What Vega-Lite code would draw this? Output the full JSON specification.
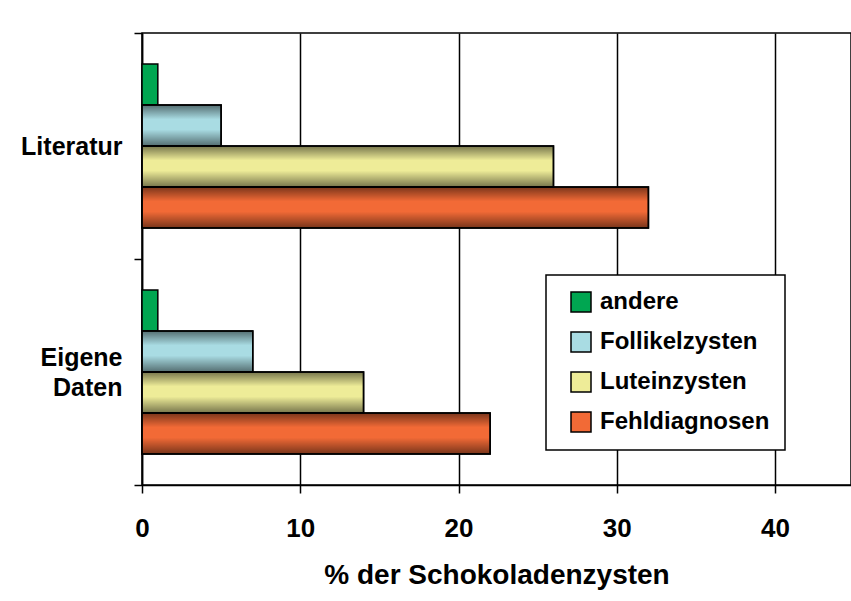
{
  "$schema": "https://vega.github.io/schema/vega-lite/v6.json",
  "width": 709,
  "height": 452,
  "autosize": {"type": "none"},
  "padding": {"left": 142, "top": 33, "right": 0, "bottom": 116},
  "background": "white",
  "config": {
    "font": "Liberation Sans",
    "view": {"stroke": "#000", "strokeWidth": 1.5},
    "axis": {"labelFont": "Liberation Sans", "titleFont": "Liberation Sans"},
    "legend": {"labelFont": "Liberation Sans"}
  },
  "data": {
    "values": [
      {"cat": "Literatur", "series": "andere", "value": 1},
      {"cat": "Literatur", "series": "Follikelzysten", "value": 5},
      {"cat": "Literatur", "series": "Luteinzysten", "value": 26},
      {"cat": "Literatur", "series": "Fehldiagnosen", "value": 32},
      {"cat": "Eigene Daten", "series": "andere", "value": 1},
      {"cat": "Eigene Daten", "series": "Follikelzysten", "value": 7},
      {"cat": "Eigene Daten", "series": "Luteinzysten", "value": 14},
      {"cat": "Eigene Daten", "series": "Fehldiagnosen", "value": 22}
    ]
  },
  "encoding": {
    "x": {
      "field": "value",
      "type": "quantitative",
      "scale": {"domain": [0, 44.8], "nice": false},
      "axis": {
        "title": "% der Schokoladenzysten",
        "values": [0, 10, 20, 30, 40],
        "labelFlush": false,
        "grid": true,
        "gridColor": "#000",
        "gridWidth": 1.5,
        "gridOpacity": 1,
        "domainColor": "#000",
        "domainWidth": 1.5,
        "tickColor": "#000",
        "tickWidth": 1.5,
        "tickSize": 8,
        "labelFontSize": 26,
        "labelFontWeight": "bold",
        "labelColor": "#000",
        "labelPadding": 22,
        "titleFontSize": 28,
        "titleFontWeight": "bold",
        "titleColor": "#000",
        "titlePadding": 20
      }
    },
    "y": {
      "field": "cat",
      "type": "nominal",
      "sort": ["Literatur", "Eigene Daten"],
      "scale": {"paddingInner": 0, "paddingOuter": 0},
      "axis": {
        "title": null,
        "tickBand": "extent",
        "domainColor": "#000",
        "domainWidth": 1.5,
        "tickColor": "#000",
        "tickWidth": 1.5,
        "tickSize": 8,
        "labelFontSize": 25,
        "labelFontWeight": "bold",
        "labelColor": "#000",
        "labelPadding": 12,
        "labelLineHeight": 30,
        "labelOffset": {"condition": {"test": "datum.value == 'Eigene Daten'", "value": -15}, "value": 0},
        "labelExpr": "datum.value == 'Eigene Daten' ? ['Eigene', 'Daten'] : datum.value"
      }
    },
    "yOffset": {
      "field": "series",
      "type": "nominal",
      "sort": ["andere", "Follikelzysten", "Luteinzysten", "Fehldiagnosen"],
      "scale": {"paddingInner": 0, "paddingOuter": 0.756}
    }
  },
  "layer": [
    {
      "mark": {"type": "bar", "stroke": "#000", "strokeWidth": 1.5},
      "encoding": {
        "color": {
          "field": "series",
          "type": "nominal",
          "sort": ["andere", "Follikelzysten", "Luteinzysten", "Fehldiagnosen"],
          "scale": {
            "domain": ["andere", "Follikelzysten", "Luteinzysten", "Fehldiagnosen"],
            "range": ["#00a651", "#a9dce3", "#eeec98", "#f26a36"]
          },
          "legend": {
            "title": null,
            "orient": "none",
            "legendX": 404,
            "legendY": 242,
            "fillColor": "white",
            "strokeColor": "#000",
            "padding": 15,
            "rowPadding": 14,
            "symbolOffset": 8,
            "symbolType": "square",
            "symbolSize": 400,
            "symbolStrokeColor": "#000",
            "symbolStrokeWidth": 1.5,
            "symbolOpacity": 1,
            "labelFontSize": 24,
            "labelFontWeight": "bold",
            "labelColor": "#000",
            "labelOffset": 7,
            "labelLimit": 300,
            "encode": {"legend": {"update": {"strokeWidth": {"value": 1.5}}}}
          }
        }
      }
    },
    {
      "transform": [{"filter": "datum.series != 'andere'"}],
      "mark": {
        "type": "bar",
        "stroke": "#000",
        "strokeWidth": 1.5,
        "fill": {
          "gradient": "linear",
          "x1": 0, "y1": 0, "x2": 0, "y2": 1,
          "stops": [
            {"offset": 0, "color": "rgba(0,0,0,0.5)"},
            {"offset": 0.35, "color": "rgba(0,0,0,0)"},
            {"offset": 0.6, "color": "rgba(0,0,0,0)"},
            {"offset": 1, "color": "rgba(0,0,0,0.5)"}
          ]
        }
      }
    }
  ]
}
